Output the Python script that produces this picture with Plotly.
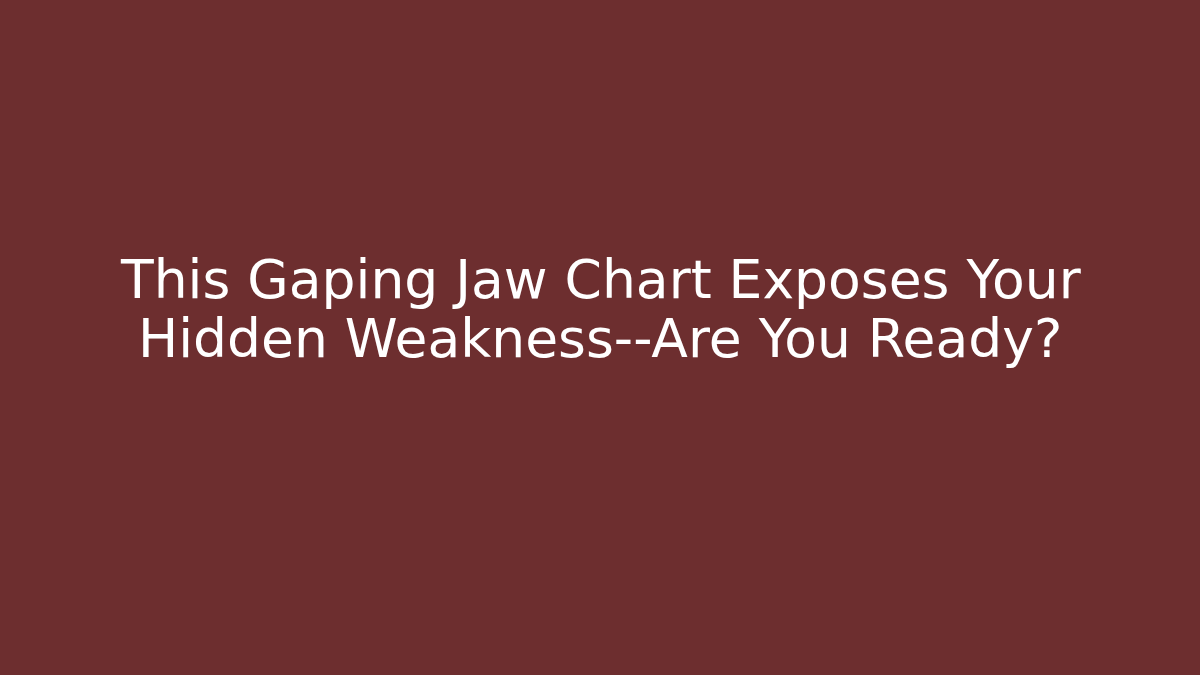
import plotly.graph_objects as go

title_lines = ["This Gaping Jaw Chart Exposes Your", "Hidden Weakness--Are You Ready?"]

bg = "#6d2e2f"
W, H = 1200, 675

fig = go.Figure()
# one annotation per line so the line spacing can be tighter than plotly's default
for i, line in enumerate(title_lines):
    fig.add_annotation(
        text=line,
        x=0.5, y=1 - (280 + 58 * i) / H, xref="paper", yref="paper",
        xanchor="center", yanchor="middle",
        showarrow=False, align="center",
        font=dict(family="DejaVu Sans", size=53.5, color="white"),
    )
fig.update_layout(
    width=W, height=H,
    margin=dict(l=0, r=0, t=0, b=0),
    paper_bgcolor=bg, plot_bgcolor=bg,
    xaxis=dict(visible=False), yaxis=dict(visible=False),
    showlegend=False,
)

fig.write_html("out.html", config={"displayModeBar": False},
               post_script="document.body.style.margin='0';")
